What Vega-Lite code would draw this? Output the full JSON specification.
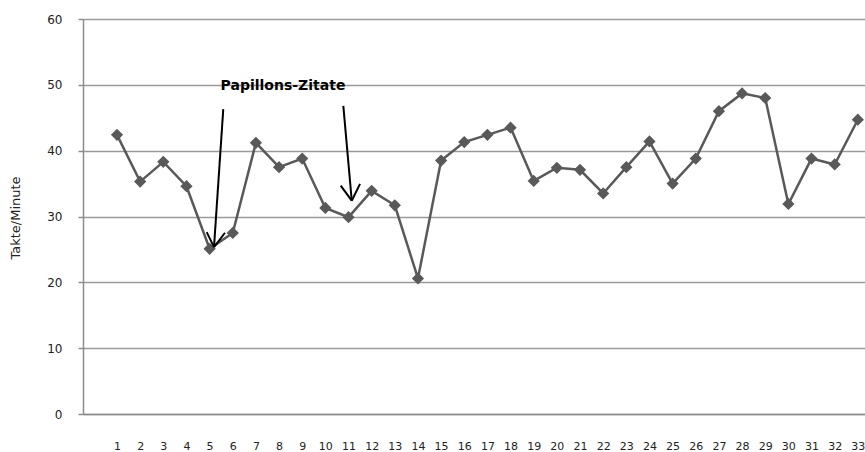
{
  "$schema": "https://vega.github.io/schema/vega-lite/v6.json",
  "width": 782,
  "height": 395,
  "autosize": {"type": "none"},
  "padding": {"left": 83, "top": 19, "right": 0, "bottom": 38},
  "background": "white",
  "config": {"view": {"stroke": null}},
  "datasets": {
    "series": [
      {"n": 1, "v": 42.4}, {"n": 2, "v": 35.3}, {"n": 3, "v": 38.3}, {"n": 4, "v": 34.6},
      {"n": 5, "v": 25.1}, {"n": 6, "v": 27.5}, {"n": 7, "v": 41.2}, {"n": 8, "v": 37.5},
      {"n": 9, "v": 38.8}, {"n": 10, "v": 31.3}, {"n": 11, "v": 29.9}, {"n": 12, "v": 33.9},
      {"n": 13, "v": 31.7}, {"n": 14, "v": 20.6}, {"n": 15, "v": 38.5}, {"n": 16, "v": 41.3},
      {"n": 17, "v": 42.4}, {"n": 18, "v": 43.5}, {"n": 19, "v": 35.4}, {"n": 20, "v": 37.4},
      {"n": 21, "v": 37.1}, {"n": 22, "v": 33.5}, {"n": 23, "v": 37.5}, {"n": 24, "v": 41.4},
      {"n": 25, "v": 35.0}, {"n": 26, "v": 38.8}, {"n": 27, "v": 46.0}, {"n": 28, "v": 48.7},
      {"n": 29, "v": 48.0}, {"n": 30, "v": 31.9}, {"n": 31, "v": 38.8}, {"n": 32, "v": 37.9},
      {"n": 33, "v": 44.7}
    ],
    "arrows": [
      {"x": 5.59, "y": 46.3, "x2": 5.19, "y2": 25.35},
      {"x": 4.875, "y": 27.62, "x2": 5.19, "y2": 25.35},
      {"x": 5.665, "y": 27.53, "x2": 5.19, "y2": 25.35},
      {"x": 10.776, "y": 46.8, "x2": 11.14, "y2": 32.4},
      {"x": 10.663, "y": 34.7, "x2": 11.14, "y2": 32.4},
      {"x": 11.497, "y": 34.95, "x2": 11.14, "y2": 32.4}
    ],
    "labels": [
      {"x": 8.17, "y": 49.85, "text": "Papillons-Zitate"}
    ]
  },
  "layer": [
    {
      "data": {"name": "series"},
      "mark": {"type": "line", "color": "#595959", "strokeWidth": 2.5, "clip": true},
      "encoding": {
        "x": {
          "field": "n", "type": "quantitative",
          "scale": {"domain": [-0.4687, 33.31], "nice": false, "zero": false},
          "axis": {
            "values": [1,2,3,4,5,6,7,8,9,10,11,12,13,14,15,16,17,18,19,20,21,22,23,24,25,26,27,28,29,30,31,32,33],
            "tickCount": 100, "format": "d",
            "title": null, "grid": false, "domain": true, "domainColor": "#8c8c8c", "domainWidth": 1.5,
            "ticks": false, "labelPadding": 26, "labelFont": "DejaVu Sans", "labelFontSize": 11,
            "labelColor": "#222", "labelFlush": false, "labelOverlap": false, "labelBound": false
          }
        },
        "y": {
          "field": "v", "type": "quantitative",
          "scale": {"domain": [0, 60], "nice": false},
          "axis": {
            "values": [0, 10, 20, 30, 40, 50, 60], "tickCount": 20, "format": "d", "title": "Takte/Minute",
            "grid": true, "gridColor": "#9a9a9a", "gridWidth": 1.5,
            "domain": true, "domainColor": "#8c8c8c", "domainWidth": 1.5,
            "ticks": true, "tickSize": 5, "tickColor": "#8c8c8c", "tickWidth": 1.5,
            "labelPadding": 16, "labelFont": "DejaVu Sans", "labelFontSize": 12, "labelColor": "#222",
            "titleFont": "DejaVu Sans", "titleFontSize": 13, "titleFontWeight": "normal", "titleColor": "#222",
            "titleAngle": -90, "titleX": -68, "titleY": 198.5, "titleAlign": "center", "titleBaseline": "middle"
          }
        }
      }
    },
    {
      "data": {"name": "series"},
      "mark": {"type": "point", "shape": "diamond", "filled": true, "size": 150, "color": "#595959", "opacity": 1},
      "encoding": {
        "x": {"field": "n", "type": "quantitative"},
        "y": {"field": "v", "type": "quantitative"}
      }
    },
    {
      "data": {"name": "arrows"},
      "mark": {"type": "rule", "color": "#000", "strokeWidth": 2},
      "encoding": {
        "x": {"field": "x", "type": "quantitative"},
        "y": {"field": "y", "type": "quantitative"},
        "x2": {"field": "x2"},
        "y2": {"field": "y2"}
      }
    },
    {
      "data": {"name": "labels"},
      "mark": {"type": "text", "font": "DejaVu Sans", "fontSize": 14, "fontWeight": "bold", "color": "#000", "align": "center", "baseline": "middle"},
      "encoding": {
        "x": {"field": "x", "type": "quantitative"},
        "y": {"field": "y", "type": "quantitative"},
        "text": {"field": "text"}
      }
    }
  ]
}
